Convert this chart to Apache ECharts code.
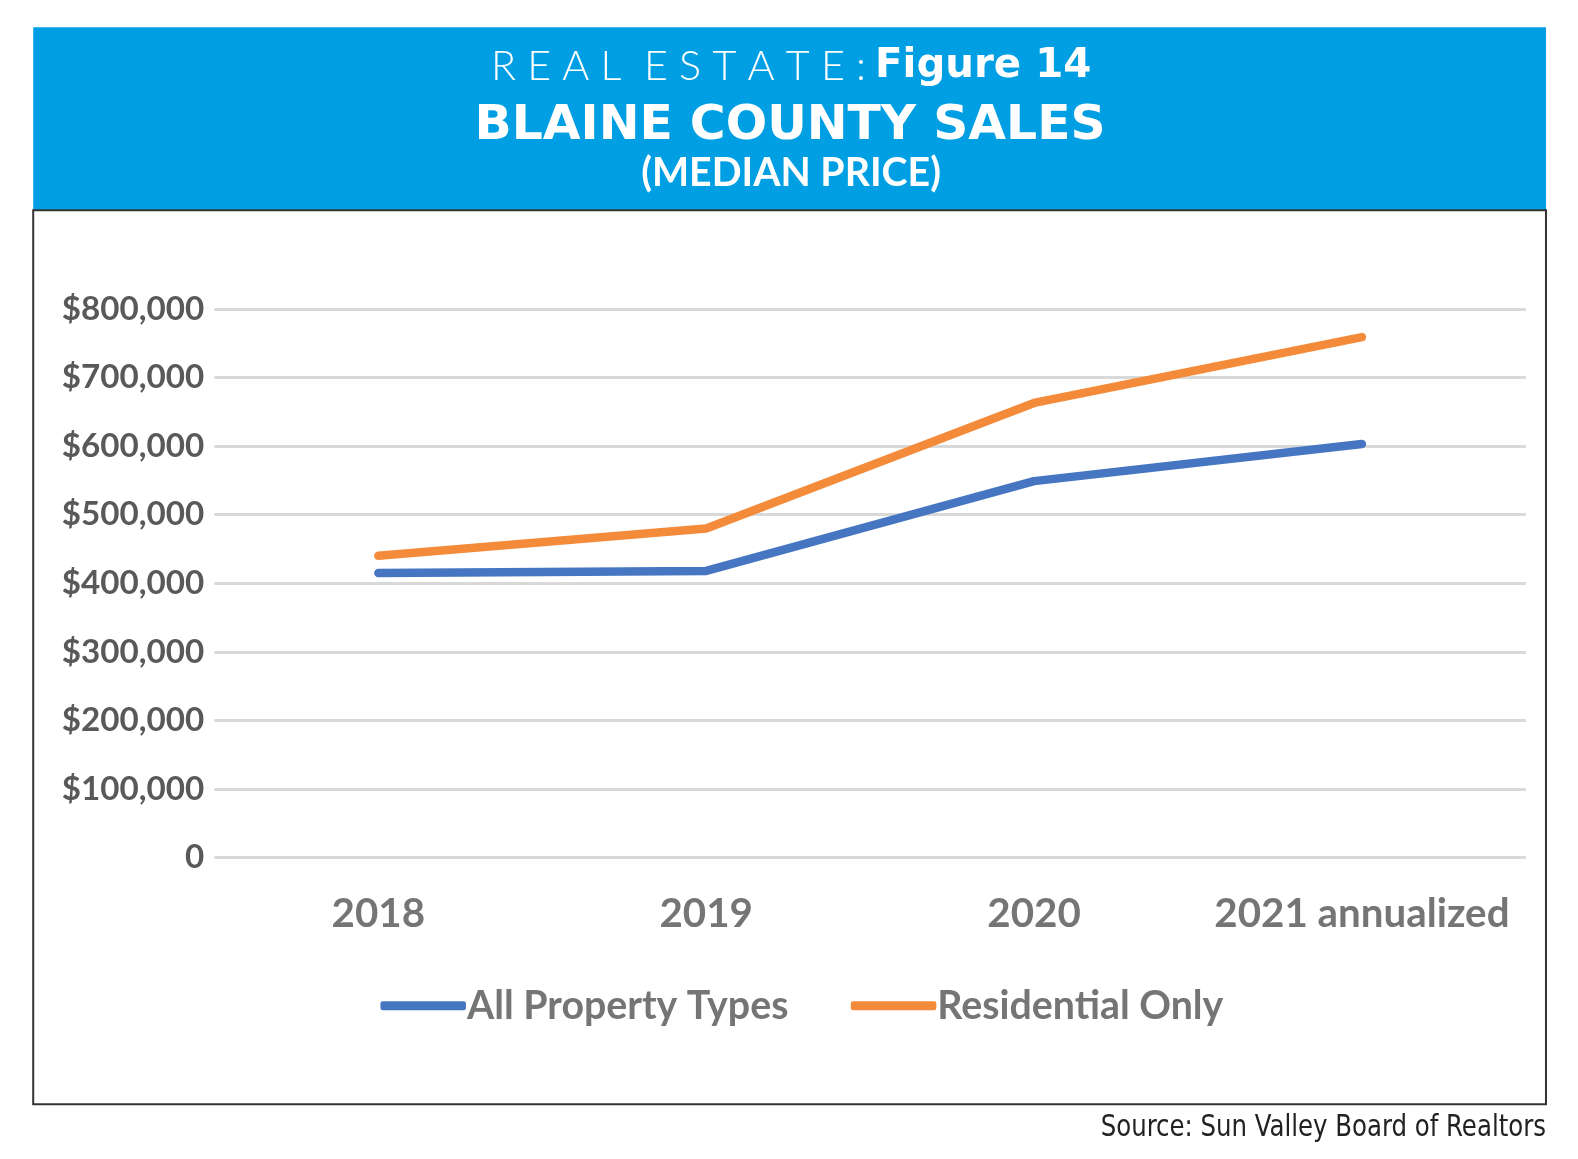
<!DOCTYPE html>
<html>
<head>
    <meta charset="utf-8">
    <title>Blaine County Sales</title>
    <script src="https://cdn.jsdelivr.net/npm/echarts@6/dist/echarts.min.js"></script>
    <style>
        html, body { margin: 0; padding: 0; background: #fff; overflow: hidden; }
        #main { width: 100vw; height: 100vh; }
    </style>
</head>
<body>
    <div id="main"></div>
    <script type="text/javascript">
        var years = ['2018', '2019', '2020', '2021 annualized'];
        var allTypes = [415000, 418000, 549000, 603000];
        var residential = [440000, 480000, 663000, 759000];
        var seriesNames = ['All Property Types', 'Residential Only'];

        // layout was measured on a 1578x1159 picture; scale to the real viewport
        // (K: the photo came out ~0.65% smaller than laid out, so compensate)
        var K = 1.0065;
        var W = window.innerWidth, H = window.innerHeight;
        var sx = W / 1578 * K, sy = H / 1159 * K;
        function X(v) { return v * sx; }
        function Y(v) { return v * sy; }
        function F(v) { return Math.round(v * Math.min(sx, sy) * 10) / 10; }

        var myChart = echarts.init(document.getElementById('main'));

        function money(v) {
            if (v === 0) return '0';
            return '$' + v.toLocaleString('en-US');
        }

        var option = {
            backgroundColor: '#fff',
            animation: false,
            title: [
                {
                    text: '{thin|R E A L  E S T A T E :}{gap| }{fig|Figure 14}',
                    left: X(781), textAlign: 'center',
                    top: Y(41),
                    textStyle: {
                        rich: {
                            thin: { fontFamily: 'Lato', fontWeight: 300, fontSize: F(41), color: '#fff' },
                            gap: { width: X(9), fontSize: F(30), color: '#fff' },
                            fig: { fontFamily: 'DejaVu Sans', fontWeight: 'bold', fontSize: F(40), color: '#fff' }
                        }
                    }
                },
                {
                    text: 'BLAINE COUNTY SALES',
                    left: X(780), textAlign: 'center',
                    top: Y(96),
                    textStyle: { fontFamily: 'DejaVu Sans', fontWeight: 'bold', fontSize: F(48.5), color: '#fff' }
                },
                {
                    text: '(MEDIAN PRICE)',
                    left: X(781), textAlign: 'center',
                    top: Y(148),
                    textStyle: { fontFamily: 'Lato', fontWeight: 'bold', fontSize: F(39), color: '#fff' }
                }
            ],
            graphic: [
                {
                    type: 'rect', z: -1,
                    shape: { x: X(33), y: Y(27), width: X(1503), height: Y(182) },
                    style: { fill: '#009FE3' }
                },
                {
                    type: 'rect', z: -1,
                    shape: { x: X(33), y: Y(209), width: X(1503), height: Y(888) },
                    style: { fill: 'none', stroke: '#333', lineWidth: 2 }
                },
                {
                    type: 'text',
                    x: X(1536), y: Y(1121),
                    scaleX: 0.9,
                    style: {
                        text: 'Source: Sun Valley Board of Realtors',
                        font: F(30) + 'px "Liberation Sans Narrow", "DejaVu Sans Condensed", Roboto, sans-serif',
                        textAlign: 'right',
                        textVerticalAlign: 'middle',
                        fill: '#222'
                    }
                }
            ],
            legend: {
                data: seriesNames,
                left: X(373),
                top: Y(975),
                icon: 'roundRect',
                itemWidth: X(85),
                itemHeight: Y(9),
                itemGap: X(62),
                textStyle: { fontFamily: 'Lato', fontWeight: 'bold', fontSize: F(39), color: '#757575', padding: [0, 0, 0, -4] }
            },
            grid: { left: X(213), right: W - X(1516), top: Y(307), bottom: H - Y(852) },
            xAxis: {
                type: 'category',
                data: years,
                axisLine: { show: false },
                axisTick: { show: false },
                axisLabel: { interval: 0, margin: Y(36), fontFamily: 'Lato', fontWeight: 'bold', fontSize: F(40), color: '#757575' }
            },
            yAxis: {
                type: 'value',
                min: 0, max: 800000, interval: 100000,
                axisLine: { show: false },
                axisTick: { show: false },
                splitLine: { lineStyle: { color: '#D9D9D9', width: 3 } },
                axisLabel: {
                    margin: X(10),
                    fontFamily: 'Lato', fontWeight: 'bold', fontSize: F(33), color: '#595959',
                    formatter: money
                }
            },
            series: [
                {
                    name: seriesNames[0],
                    type: 'line',
                    data: allTypes,
                    symbol: 'none',
                    itemStyle: { color: '#4676C2' },
                    lineStyle: { color: '#4676C2', width: 8.5, cap: 'round' }
                },
                {
                    name: seriesNames[1],
                    type: 'line',
                    data: residential,
                    symbol: 'none',
                    itemStyle: { color: '#F38B3A' },
                    lineStyle: { color: '#F38B3A', width: 8.5, cap: 'round' }
                }
            ]
        };
        myChart.setOption(option);
    </script>
</body>
</html>
